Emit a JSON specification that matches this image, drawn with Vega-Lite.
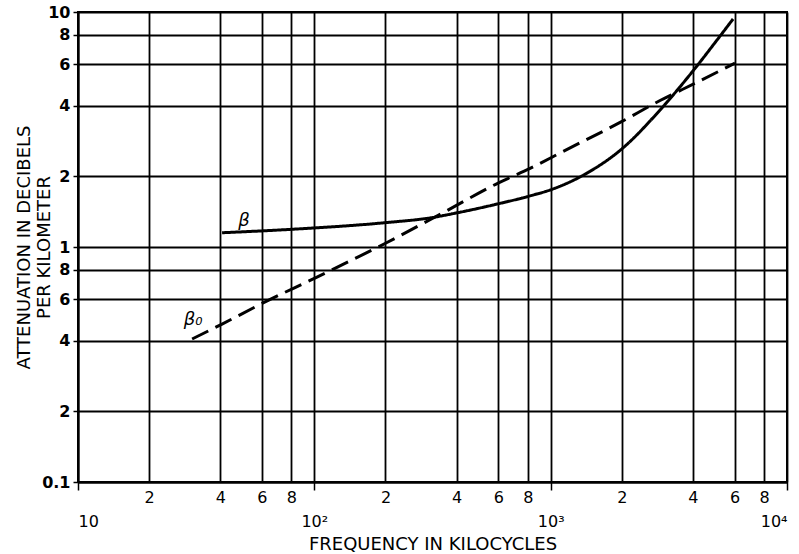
{
  "$schema": "https://vega.github.io/schema/vega-lite/v6.json",
  "width": 709,
  "height": 470,
  "autosize": {"type": "none"},
  "padding": {"left": 78, "top": 12, "right": 12, "bottom": 72},
  "background": "white",
  "config": {"view": {"stroke": "black", "strokeWidth": 2}, "font": "DejaVu Sans"},
  "datasets": {
    "curves": [
      {"series": "β", "f": 40.7, "v": 1.15},
      {"series": "β", "f": 81, "v": 1.19},
      {"series": "β", "f": 201, "v": 1.27},
      {"series": "β", "f": 309, "v": 1.33},
      {"series": "β", "f": 405, "v": 1.40},
      {"series": "β", "f": 605, "v": 1.53},
      {"series": "β", "f": 818, "v": 1.65},
      {"series": "β", "f": 1014, "v": 1.76},
      {"series": "β", "f": 1372, "v": 2.02},
      {"series": "β", "f": 2023, "v": 2.64},
      {"series": "β", "f": 2904, "v": 3.83},
      {"series": "β", "f": 4123, "v": 5.83},
      {"series": "β", "f": 5058, "v": 7.6},
      {"series": "β", "f": 5914, "v": 9.34},
      {"series": "β₀", "f": 30.4, "v": 0.406},
      {"series": "β₀", "f": 40.7, "v": 0.47},
      {"series": "β₀", "f": 60.7, "v": 0.578},
      {"series": "β₀", "f": 102.6, "v": 0.745},
      {"series": "β₀", "f": 201, "v": 1.04},
      {"series": "β₀", "f": 351, "v": 1.40},
      {"series": "β₀", "f": 605, "v": 1.88},
      {"series": "β₀", "f": 818, "v": 2.16},
      {"series": "β₀", "f": 1128, "v": 2.55},
      {"series": "β₀", "f": 1967, "v": 3.39},
      {"series": "β₀", "f": 2904, "v": 4.2},
      {"series": "β₀", "f": 4123, "v": 5.0},
      {"series": "β₀", "f": 6026, "v": 6.06}
    ],
    "labels": [
      {"label": "β", "f": 50.4, "v": 1.29},
      {"label": "β₀", "f": 30.7, "v": 0.489}
    ]
  },
  "layer": [
    {
      "data": {"name": "curves"},
      "mark": {"type": "line", "strokeWidth": 3, "color": "black", "interpolate": "monotone"},
      "encoding": {
        "x": {
          "field": "f", "type": "quantitative",
          "scale": {"type": "log", "domain": [10, 10000], "nice": false},
          "axis": {
            "values": [10, 20, 40, 60, 80, 100, 200, 400, 600, 800, 1000, 2000, 4000, 6000, 8000, 10000],
            "labelExpr": "datum.value == 10 ? ['', '10'] : datum.value == 100 ? ['', '10²'] : datum.value == 1000 ? ['', '10³'] : datum.value == 10000 ? ['', '10⁴'] : substring(toString(datum.value), 0, 1)",
            "grid": true, "gridColor": "black", "gridWidth": 1.8, "gridOpacity": 1,
            "domainColor": "black", "domainWidth": 2,
            "tickSize": 8, "tickWidth": 1.5,
            "tickColor": {"condition": {"test": "datum.value == 10 || datum.value == 100 || datum.value == 1000 || datum.value == 10000", "value": "black"}, "value": "transparent"},
            "labelFontSize": 16, "labelColor": "black", "labelPadding": -1, "labelLineHeight": 24,
            "labelFlush": true, "labelOverlap": false,
            "title": "FREQUENCY IN KILOCYCLES", "titleFontSize": 18, "titleFontWeight": "normal",
            "titleColor": "black", "titlePadding": 6
          }
        },
        "y": {
          "field": "v", "type": "quantitative",
          "scale": {"type": "log", "domain": [0.1, 10], "nice": false},
          "axis": {
            "values": [0.1, 0.2, 0.4, 0.6, 0.8, 1, 2, 4, 6, 8, 10],
            "labelExpr": "datum.value == 0.1 ? '0.1' : datum.value < 1 ? substring(toString(datum.value), 2, 3) : toString(datum.value)",
            "grid": true, "gridColor": "black", "gridWidth": 1.8, "gridOpacity": 1,
            "domainColor": "black", "domainWidth": 2,
            "tickSize": 5, "tickWidth": 1.5, "tickColor": "black",
            "labelFontSize": 16, "labelFontWeight": "bold", "labelColor": "black", "labelPadding": 3,
            "labelOverlap": false, "labelFlush": false,
            "title": ["ATTENUATION IN DECIBELS", "PER KILOMETER"],
            "titleFontSize": 18, "titleFontWeight": "normal", "titleColor": "black",
            "titleLineHeight": 20, "titlePadding": -12
          }
        },
        "strokeDash": {
          "field": "series", "type": "nominal",
          "scale": {"domain": ["β", "β₀"], "range": [[1, 0], [18, 8]]},
          "legend": null
        }
      }
    },
    {
      "data": {"name": "labels"},
      "mark": {"type": "text", "fontSize": 18, "fontStyle": "italic", "align": "center", "baseline": "middle", "color": "black"},
      "encoding": {
        "x": {"field": "f", "type": "quantitative", "scale": {"type": "log", "domain": [10, 10000], "nice": false}},
        "y": {"field": "v", "type": "quantitative", "scale": {"type": "log", "domain": [0.1, 10], "nice": false}},
        "text": {"field": "label"}
      }
    }
  ]
}
